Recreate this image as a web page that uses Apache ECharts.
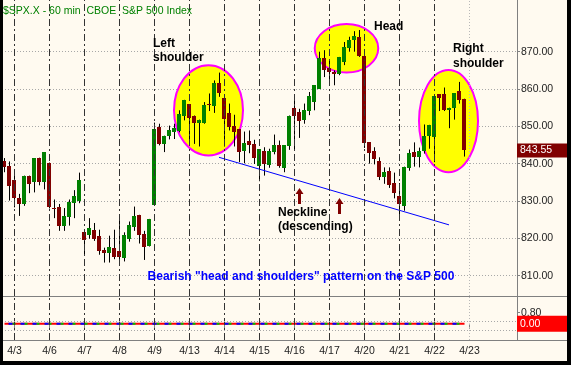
<!DOCTYPE html>
<html><head><meta charset="utf-8">
<script src="https://cdn.jsdelivr.net/npm/echarts@6/dist/echarts.min.js"></script>
<style>html,body{margin:0;padding:0;background:#000;}#c{width:571px;height:365px;}</style>
</head><body><div id="c"></div>
<script>
// ---------- data ----------
const dayLabels = ['4/3','4/6','4/7','4/8','4/9','4/13','4/14','4/15','4/16','4/17','4/20','4/21','4/22','4/23'];
const leadBars = 2;      // last two hourly bars of 4/2
const barsPerDay = 7;
const slotCount = 103;

const opens = [840.8,839.5,835.5,830.9,829.1,836.8,835.2,841.6,835.1,840.3,828.1,828.5,823.4,825.6,829.5,830.1,
  821.8,820.8,822.3,820.5,816.9,816.1,817.5,816.6,814.6,819.9,822.9,826.3,821.2,818.0,
  829.0,849.8,845.3,847.3,848.5,848.7,852.7,855.9,852.9,850.9,850.9,856.1,855.4,861.6,
  857.6,853.6,850.2,849.3,843.3,846.2,845.3,839.5,843.5,839.7,843.1,844.9,838.9,844.6,
  855.0,853.8,851.6,854.0,856.6,860.1,868.4,865.6,864.5,864.1,867.3,871.1,873.1,874.0,
  868.8,845.8,843.5,840.7,836.4,838.0,834.7,831.4,828.7,838.8,843.0,841.9,843.4,847.3,
  847.1,858.6,858.6,854.3,855.0,859.4,857.4];
const closes = [839.0,834.1,830.7,829.1,836.8,834.5,841.4,835.0,843.0,828.5,827.8,823.4,826.0,829.6,831.4,835.7,
  819.5,822.8,819.8,816.5,816.1,817.8,814.9,815.0,820.9,823.6,826.0,820.8,817.8,825.2,
  849.4,845.3,847.5,849.1,849.5,853.2,857.1,852.3,850.9,851.8,855.6,855.7,861.6,858.9,
  852.0,849.8,848.4,843.1,845.5,845.1,841.5,843.9,839.9,843.5,845.1,839.5,844.9,852.7,
  852.9,851.4,854.3,858.0,861.0,868.4,865.2,864.5,864.0,868.6,871.3,873.1,874.3,868.8,
  845.5,842.9,841.3,836.4,837.8,834.2,832.1,829.2,839.2,842.8,841.9,843.3,847.4,850.4,
  858.0,857.7,854.5,855.0,858.8,857.0,843.55];
const lows = [837.7,830.1,828.3,826.0,828.7,832.1,832.3,834.2,833.1,828.0,825.4,822.0,822.0,823.4,825.4,829.4,
  815.3,819.9,819.3,815.6,813.5,813.5,814.4,813.8,813.8,819.1,822.0,818.6,814.2,817.8,
  829.0,844.9,843.1,846.5,846.6,848.4,851.6,845.3,845.3,844.6,850.7,854.1,853.6,857.9,
  844.6,848.9,844.6,840.4,840.1,842.8,839.9,835.3,836.8,838.9,842.5,838.9,837.7,843.7,
  843.5,846.9,850.7,853.0,854.3,860.1,863.2,861.0,861.0,863.7,866.4,870.0,870.0,868.6,
  844.2,840.0,839.8,835.6,834.6,833.5,830.7,826.1,827.4,838.1,839.2,839.0,842.7,844.0,
  840.4,854.1,854.1,849.5,851.8,856.1,841.9];
const highs = [841.5,840.6,836.8,831.9,836.8,836.8,841.4,841.6,843.0,840.3,830.4,829.2,828.1,830.4,832.9,837.6,
  821.8,825.4,824.1,822.3,817.5,820.7,822.3,824.7,821.6,824.5,828.5,826.3,822.0,825.2,
  851.0,850.7,847.5,850.2,850.7,854.3,857.1,855.9,852.9,851.8,856.5,858.8,862.3,864.4,
  857.6,856.1,853.1,849.3,848.6,848.9,846.4,843.9,844.4,844.0,847.8,846.2,844.9,852.9,
  858.3,854.7,856.1,859.2,861.0,870.0,870.4,867.7,865.0,868.6,872.6,874.0,875.5,875.8,
  868.8,845.8,844.4,841.7,839.0,839.0,837.6,834.8,839.2,843.8,845.7,844.3,850.5,850.4,
  858.0,858.6,860.4,855.0,858.8,861.9,857.4];

const priceTicks = [810, 820, 830, 840, 850, 860, 870];
const lastPrice = 843.55;
const indicatorTicks = [0.8];
const indicatorGrid = [0.19, -0.46];
const indicatorValues = opens.map(() => 0);

// annotations in data space: [barIndex, price, halfWidthBars, halfHeightPrice]
const patternEllipses = [[40.8, 854.3, 6.9, 12.1], [68.4, 870.9, 6.35, 6.5], [88.8, 851.4, 5.9, 13.7]];
const necklinePts = [[42.9, 841.7, 88.9, 823.6]];
const arrowPts = [[59, 833.5], [67, 830.8]];

// ---------- chart ----------
const BG = '#FFFAF0';
const UP = '#008000', DOWN = '#800000';
const NONE = 'rgba(0,0,0,0)';
const cats = Array.from({length: slotCount}, (_, i) => String(i));
const dayStart = dayLabels.map((d, i) => leadBars + i * barsPerDay);
const labelAt = {}; dayStart.forEach((s, i) => { labelAt[s] = dayLabels[i]; });
const isDay = (i) => labelAt[i] !== undefined;
const futureIdx = dayStart[dayStart.length - 1];
const dayLineStyle = {color: '#333333', type: [7, 3, 2, 3], width: 1};
const futureLineStyle = {color: '#b8b8b8', type: [1, 2], width: 1};
const dayLines = dayStart.map(s => ({xAxis: s, lineStyle: s === futureIdx ? futureLineStyle : dayLineStyle, label: {show: false}}));

const candleData = opens.map((o, i) => [i, o, closes[i], lows[i], highs[i]]);

function fcoord(api, k, p) {
  const k0 = Math.floor(k);
  const pt = api.coord([k0, p]);
  const bw = api.size([1, 0])[0];
  return [pt[0] + (k - k0) * bw, pt[1]];
}

const F = 'Arial, "Liberation Sans", sans-serif';
const priceBox = (text, bg, pad) => ({show: true, position: 'end', distance: 0, formatter: text, color: '#fff',
  backgroundColor: bg, padding: pad, width: 45, fontSize: 10.5, fontFamily: F});

const option = {
  animation: false,
  backgroundColor: BG,
  grid: [
    {left: 2, top: 0, width: 515, height: 296},
    {left: 2, top: 296, width: 515, height: 44}
  ],
  xAxis: [
    {gridIndex: 0, type: 'category', data: cats, boundaryGap: true,
     axisLine: {show: false}, axisTick: {show: false}, axisLabel: {show: false}, splitLine: {show: false}},
    {gridIndex: 1, type: 'category', data: cats, boundaryGap: true,
     axisLine: {show: false},
     axisTick: {show: true, alignWithLabel: true, interval: (i) => isDay(i), length: 5, lineStyle: {color: '#808080'}},
     axisLabel: {show: true, interval: (i) => isDay(i), formatter: (v, i) => labelAt[i] || '',
       fontSize: 10.5, fontFamily: F, color: '#222', margin: 6},
     splitLine: {show: false}}
  ],
  yAxis: [
    {gridIndex: 0, type: 'value', position: 'right', min: 804.54, max: 883.85,
     axisLine: {show: true, lineStyle: {color: '#808080'}},
     axisTick: {show: true, length: 3, customValues: priceTicks, lineStyle: {color: '#808080'}},
     axisLabel: {customValues: priceTicks, formatter: (v) => v.toFixed(2), fontSize: 10.5, fontFamily: F, color: '#222', margin: 4},
     splitLine: {show: true, lineStyle: {color: '#a8a8a8', type: [1, 2]}}},
    {gridIndex: 1, type: 'value', position: 'right', min: -1.185, max: 2.015,
     axisLine: {show: true, lineStyle: {color: '#808080'}},
     axisTick: {show: true, length: 3, customValues: indicatorTicks, lineStyle: {color: '#808080'}},
     axisLabel: {customValues: indicatorTicks, formatter: (v) => v.toFixed(2), fontSize: 10.5, fontFamily: F, color: '#222', margin: 4},
     splitLine: {show: false}}
  ],
  series: [
    {type: 'custom', xAxisIndex: 0, yAxisIndex: 0, z: 1, silent: true, data: patternEllipses,
     renderItem: (params, api) => {
       const c = fcoord(api, api.value(0), api.value(1));
       const e = fcoord(api, api.value(0) + api.value(2), api.value(1) + api.value(3));
       return {type: 'ellipse', shape: {cx: c[0], cy: c[1], rx: Math.abs(e[0] - c[0]), ry: Math.abs(c[1] - e[1])},
         style: {fill: '#FFFF00', stroke: '#FF00FF', lineWidth: 2}};
     }},
    {type: 'line', xAxisIndex: 0, yAxisIndex: 0, z: 2, silent: true, symbol: 'none',
     data: closes.map((c, i) => [i, c]), lineStyle: {color: NONE, width: 0},
     markLine: {silent: true, symbol: ['none', 'none'], animation: false,
       data: dayLines.concat([{yAxis: lastPrice, lineStyle: {color: NONE, width: 0},
         label: priceBox(lastPrice.toFixed(2), '#800000', [2, 2, 1, 3])}])}},
    {type: 'custom', xAxisIndex: 0, yAxisIndex: 0, z: 3, silent: true, data: candleData,
     encode: {x: 0, y: [1, 2, 3, 4]},
     renderItem: (params, api) => {
       const k = api.value(0), o = api.value(1), c = api.value(2), l = api.value(3), h = api.value(4);
       const pO = api.coord([k, o]), pC = api.coord([k, c]), pL = api.coord([k, l]), pH = api.coord([k, h]);
       const cx = Math.floor(pO[0]) + 0.5;
       const top = Math.round(Math.min(pO[1], pC[1])), bot = Math.round(Math.max(pO[1], pC[1]));
       return {type: 'group', children: [
         {type: 'line', shape: {x1: cx, y1: pH[1], x2: cx, y2: pL[1]}, style: {stroke: '#000', lineWidth: 1}},
         {type: 'rect', shape: {x: cx - 2.5, y: top, width: 4, height: Math.max(bot - top, 1)},
          style: {fill: c >= o ? UP : DOWN}}
       ]};
     }},
    {type: 'custom', xAxisIndex: 0, yAxisIndex: 0, z: 4, silent: true, data: necklinePts,
     renderItem: (params, api) => {
       const a = fcoord(api, api.value(0), api.value(1));
       const b = fcoord(api, api.value(2), api.value(3));
       return {type: 'line', shape: {x1: a[0], y1: a[1], x2: b[0], y2: b[1]}, style: {stroke: '#0000FF', lineWidth: 1}};
     }},
    {type: 'custom', xAxisIndex: 0, yAxisIndex: 0, z: 4, silent: true, data: arrowPts,
     renderItem: (params, api) => {
       const p = api.coord([api.value(0), api.value(1)]);
       const x = Math.floor(p[0]) + 0.5, y = p[1];
       return {type: 'polygon', shape: {points: [[x, y], [x - 4, y + 6], [x - 1.5, y + 6], [x - 1.5, y + 16],
         [x + 1.5, y + 16], [x + 1.5, y + 6], [x + 4, y + 6]]}, style: {fill: '#800000'}};
     }},
    {type: 'line', xAxisIndex: 1, yAxisIndex: 1, z: 2, silent: true, symbol: 'none',
     data: indicatorValues.map((v, i) => [i, v]), lineStyle: {color: '#FF0000', width: 2},
     markLine: {silent: true, symbol: ['none', 'none'], animation: false,
       data: dayLines.concat(indicatorGrid.map(v => ({yAxis: v, lineStyle: {color: '#a8a8a8', type: [1, 2], width: 1}, label: {show: false}})))
         .concat([{yAxis: indicatorValues[indicatorValues.length - 1], lineStyle: {color: NONE, width: 0},
           label: priceBox('0.00', '#FF0000', [4, 2, 1, 3])}])}},
    {type: 'line', xAxisIndex: 1, yAxisIndex: 1, z: 3, silent: true, symbol: 'none',
     data: indicatorValues.map((v, i) => [i, v]), lineStyle: {color: '#00C000', width: 2, type: [3, 9], dashOffset: 4}},
    {type: 'line', xAxisIndex: 1, yAxisIndex: 1, z: 3, silent: true, symbol: 'none',
     data: indicatorValues.map((v, i) => [i, v]), lineStyle: {color: '#0000FF', width: 2, type: [4, 8], dashOffset: 8}}
  ],
  graphic: [
    {type: 'rect', left: 0, top: 0, shape: {width: 3, height: 365}, style: {fill: '#000'}, z: 100},
    {type: 'rect', left: 567, top: 0, shape: {width: 4, height: 365}, style: {fill: '#000'}, z: 100},
    {type: 'rect', left: 0, top: 361, shape: {width: 571, height: 4}, style: {fill: '#000'}, z: 100},
    {type: 'line', shape: {x1: 3, y1: 296.5, x2: 567, y2: 296.5}, style: {stroke: '#808080', lineWidth: 1}, z: 50},
    {type: 'line', shape: {x1: 3, y1: 340.5, x2: 567, y2: 340.5}, style: {stroke: '#808080', lineWidth: 1}, z: 50},
    {type: 'text', x: 3, y: 11, style: {text: '$SPX.X - 60 min  CBOE  S&P 500 Index', fill: '#008000', font: '10.5px ' + F, textVerticalAlign: 'middle'}, z: 60},
    {type: 'text', x: 153, y: 44, style: {text: 'Left', fill: '#000', font: 'bold 12px ' + F, textVerticalAlign: 'middle'}, z: 60},
    {type: 'text', x: 153, y: 58, style: {text: 'shoulder', fill: '#000', font: 'bold 12px ' + F, textVerticalAlign: 'middle'}, z: 60},
    {type: 'text', x: 374, y: 27, style: {text: 'Head', fill: '#000', font: 'bold 12px ' + F, textVerticalAlign: 'middle'}, z: 60},
    {type: 'text', x: 453, y: 49, style: {text: 'Right', fill: '#000', font: 'bold 12px ' + F, textVerticalAlign: 'middle'}, z: 60},
    {type: 'text', x: 453, y: 64, style: {text: 'shoulder', fill: '#000', font: 'bold 12px ' + F, textVerticalAlign: 'middle'}, z: 60},
    {type: 'text', x: 278, y: 213, style: {text: 'Neckline', fill: '#000', font: 'bold 12px ' + F, textVerticalAlign: 'middle'}, z: 60},
    {type: 'text', x: 278, y: 227, style: {text: '(descending)', fill: '#000', font: 'bold 12px ' + F, textVerticalAlign: 'middle'}, z: 60},
    {type: 'text', x: 301, y: 277, style: {text: 'Bearish "head and shoulders" pattern on the S&P 500', fill: '#0000FF', font: 'bold 12px ' + F, textAlign: 'center', textVerticalAlign: 'middle'}, z: 60}
  ]
};
const chart = echarts.init(document.getElementById('c'), null, {renderer: 'canvas'});
chart.setOption(option);
</script></body></html>
